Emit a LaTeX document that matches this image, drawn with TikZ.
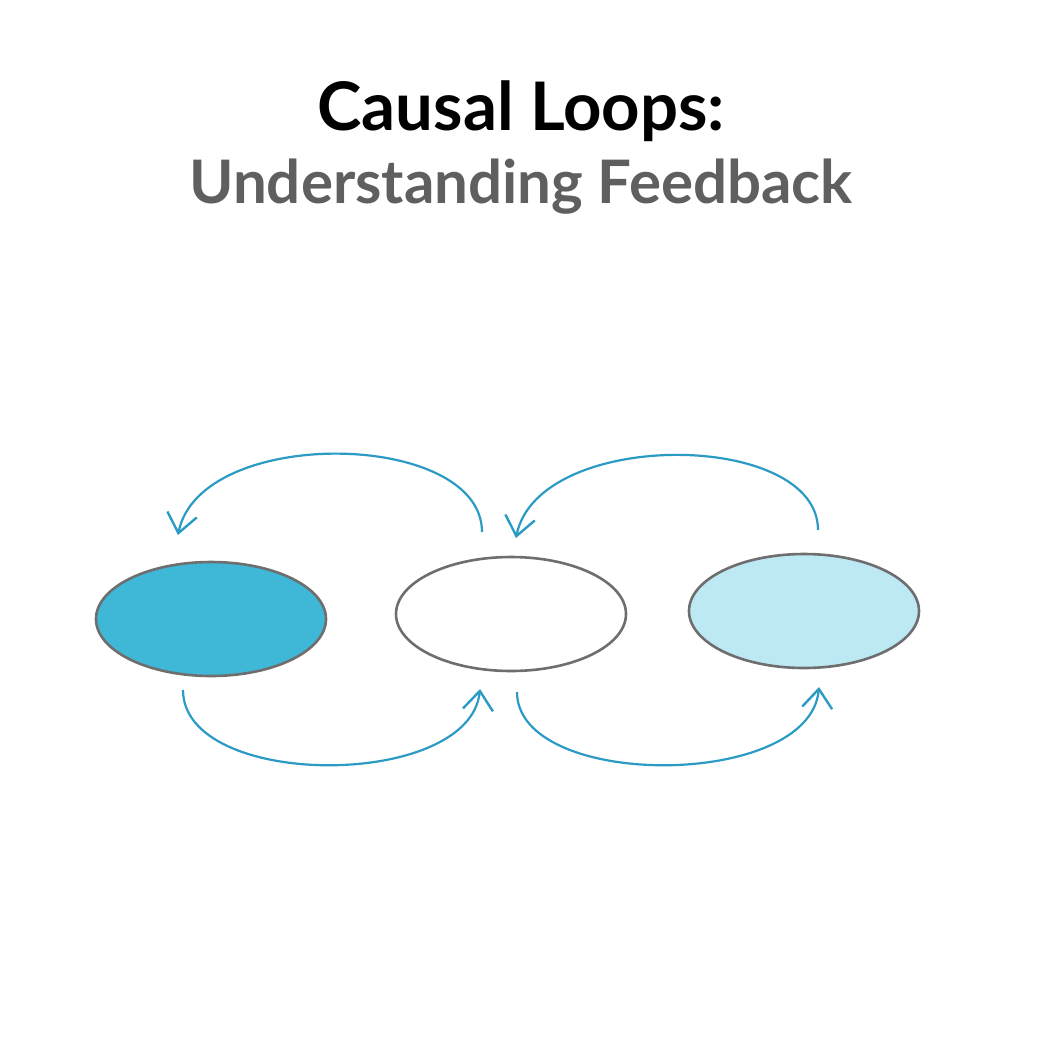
\documentclass[tikz,border=0pt]{standalone}
\usepackage{fontspec}
\setmainfont{Lato}
\usetikzlibrary{shapes.geometric,arrows.meta}
\definecolor{edgegray}{HTML}{6E6E6E}
\definecolor{deepblue}{HTML}{3FB8D8}
\definecolor{paleblue}{HTML}{BDE9F5}
\definecolor{arrowblue}{HTML}{2B9AC4}
\definecolor{subgray}{HTML}{5F5F5F}
\tikzset{
  loopnode/.style={ellipse, draw=edgegray, line width=2.6pt, minimum width=230pt, minimum height=114pt, inner sep=0pt},
  looparrow/.style={draw=arrowblue, line width=2.2pt, -{Straight Barb[length=19pt,width=30pt,line width=2.4pt]}},
  titletext/.style={font=\bfseries\fontsize{67}{67}\selectfont, anchor=base},
}
\begin{document}
\begin{tikzpicture}[x=1pt,y=-1pt]
\useasboundingbox (0,0) rectangle (1042,1042);
\node[titletext, text=black] (title) at (521,130) {Causal Loops:};
\node[titletext, text=subgray, font=\bfseries\fontsize{60}{60}\selectfont] (subtitle) at (521,203) {Understanding Feedback};
\node[loopnode, fill=deepblue] (left) at (211,619) {};
\node[loopnode, fill=white] (mid) at (511,614) {};
\node[loopnode, fill=paleblue] (right) at (804,611) {};
% free ends
\coordinate (tlS) at (482,532);
\coordinate (tlE) at (178,535);
\coordinate (trS) at (818,530);
\coordinate (trE) at (516,538);
\coordinate (blS) at (183,690);
\coordinate (blE) at (480,689);
\coordinate (brS) at (517,692);
\coordinate (brE) at (819,687);
\draw[looparrow] (tlS) .. controls (482,430) and (200,425) .. (tlE);
\draw[looparrow] (trS) .. controls (818,430) and (538,428) .. (trE);
\draw[looparrow] (blS) .. controls (183,790) and (470,790) .. (blE);
\draw[looparrow] (brS) .. controls (517,790) and (810,790) .. (brE);
\end{tikzpicture}
\end{document}
